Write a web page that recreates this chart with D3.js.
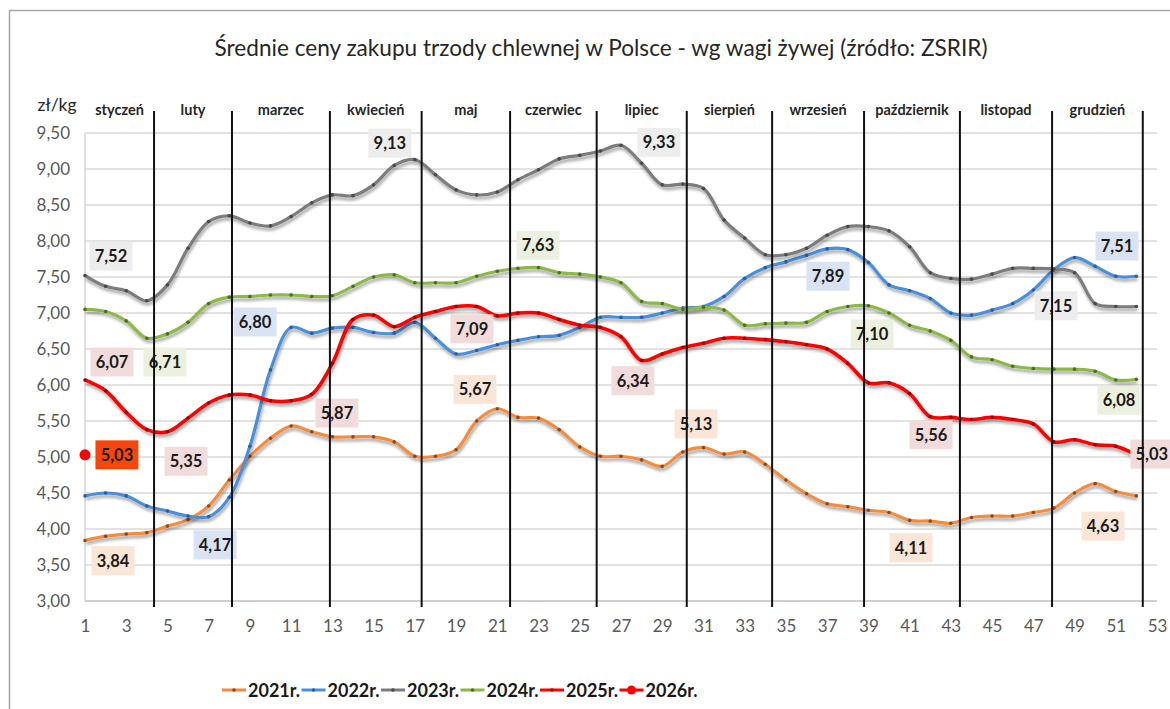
<!DOCTYPE html>
<html><head><meta charset="utf-8">
<script src="https://cdn.jsdelivr.net/npm/d3@7/dist/d3.min.js"></script>
<style>body{margin:0;background:#fff}svg{display:block}</style>
</head><body><svg id="c" width="1170" height="709"></svg>
<script>
// ---------- data ----------
const weeks = [1,2,3,4,5,6,7,8,9,10,11,12,13,14,15,16,17,18,19,20,21,22,23,24,25,26,
  27,28,29,30,31,32,33,34,35,36,37,38,39,40,41,42,43,44,45,46,47,48,49,50,51,52];
const y2021 = [3.84,3.90,3.93,3.95,4.04,4.13,4.32,4.68,5.01,5.26,5.43,5.35,5.28,5.28,5.28,5.21,5.01,5.01,5.10,5.50,
  5.67,5.55,5.54,5.38,5.14,5.01,5.01,4.96,4.87,5.07,5.13,5.04,5.07,4.90,4.68,4.49,4.35,4.31,4.26,4.23,
  4.12,4.11,4.08,4.16,4.18,4.18,4.23,4.29,4.50,4.63,4.52,4.46];
const y2022 = [4.46,4.50,4.46,4.32,4.25,4.18,4.17,4.44,5.15,6.21,6.80,6.72,6.79,6.80,6.73,6.72,6.87,6.65,6.43,6.48,
  6.56,6.62,6.67,6.69,6.80,6.94,6.94,6.94,7.00,7.07,7.09,7.23,7.48,7.63,7.71,7.80,7.89,7.88,7.70,7.39,
  7.31,7.20,7.00,6.97,7.04,7.13,7.32,7.60,7.77,7.65,7.51,7.51];
const y2023 = [7.52,7.37,7.31,7.17,7.39,7.90,8.27,8.35,8.25,8.21,8.34,8.53,8.64,8.63,8.78,9.05,9.13,8.92,8.71,8.64,
  8.68,8.85,8.99,9.14,9.19,9.25,9.33,9.08,8.78,8.79,8.73,8.29,8.04,7.81,7.81,7.90,8.08,8.20,8.20,8.14,
  7.92,7.56,7.48,7.47,7.54,7.62,7.62,7.61,7.56,7.13,7.09,7.09];
const y2024 = [7.05,7.02,6.89,6.65,6.71,6.87,7.13,7.22,7.23,7.25,7.25,7.23,7.24,7.37,7.50,7.53,7.42,7.42,7.42,7.51,
  7.58,7.62,7.63,7.56,7.54,7.50,7.42,7.16,7.13,7.05,7.08,7.04,6.83,6.85,6.86,6.87,7.02,7.09,7.10,7.00,
  6.83,6.75,6.62,6.39,6.35,6.26,6.23,6.22,6.22,6.19,6.07,6.08];
const y2025 = [6.07,5.92,5.62,5.38,5.35,5.54,5.75,5.86,5.86,5.78,5.78,5.87,6.30,6.91,6.97,6.81,6.94,7.02,7.09,7.09,
  6.96,7.00,7.00,6.91,6.83,6.80,6.67,6.34,6.43,6.52,6.58,6.65,6.65,6.63,6.60,6.56,6.50,6.30,6.03,6.03,
  5.88,5.56,5.55,5.52,5.55,5.52,5.46,5.21,5.24,5.17,5.15,5.03];
const y2026 = [5.03];

const seriesNames  = ["2021r.","2022r.","2023r.","2024r.","2025r.","2026r."];
const seriesColors = ["#f58b3c","#4a8fdc","#7c7c7c","#8cb847","#ff0000","#ff0000"];
const markerColors = ["#8a4a1f","#2d5e9c","#4a4a4a","#4e6d1f","#9a0000","#ff0000"];

const xTicks = [1,3,5,7,9,11,13,15,17,19,21,23,25,27,29,31,33,35,37,39,41,43,45,47,49,51,53];
const yTicks = [3.0,3.5,4.0,4.5,5.0,5.5,6.0,6.5,7.0,7.5,8.0,8.5,9.0,9.5];

const monthNames  = ["styczeń","luty","marzec","kwiecień","maj","czerwiec","lipiec","sierpień",
  "wrzesień","październik","listopad","grudzień"];
const monthBounds = [4.35,8.13,12.88,17.33,21.62,25.82,30.19,34.33,38.79,43.44,47.91,52.31];

// value call-outs: text, anchor week, anchor value, style (series index)
const noteText  = ["7,52","9,13","9,33","7,63","6,80","6,07","6,71","5,87","5,35","5,03","3,84","4,17",
  "7,09","5,67","6,34","5,13","7,89","7,10","7,15","7,51","6,08","5,56","5,03","4,11","4,63"];
const noteWeek  = [2.26,15.79,28.84,22.97,9.25,2.31,4.88,13.22,5.90,2.55,2.36,7.31,
  19.77,19.92,27.58,30.64,37.04,39.18,48.10,51.06,51.16,42.04,52.75,41.07,50.38];
const noteValue = [7.79,9.36,9.37,7.94,6.875,6.32,6.32,5.61,4.94,5.03,3.56,3.78,
  6.78,5.94,6.06,5.46,7.51,6.71,7.10,7.93,5.79,5.31,5.04,3.74,4.04];
const noteSeries= [2,2,2,3,1,4,3,4,4,5,0,1,4,0,4,0,1,3,2,1,3,4,4,0,0];
const noteFills = ["#fbe5d6","#dae3f3","#ededed","#ebf1de","#f2dcdb","#f5470c"];

// ---------- layout ----------
const svg = d3.select("#c");
const x = d3.scaleLinear().domain([1,53]).range([85,1157]);
const y = d3.scaleLinear().domain([3,9.5]).range([601,133]);
const FONT = "Lato, 'Liberation Sans', Arial, sans-serif";

const defs = svg.append("defs");
const f = defs.append("filter").attr("id","sh").attr("x","-5%").attr("y","-20%").attr("width","110%").attr("height","140%");
f.append("feDropShadow").attr("dx",1).attr("dy",3).attr("stdDeviation",1.8)
  .attr("flood-color","#000").attr("flood-opacity",0.35);

// frame
svg.append("rect").attr("x",9.5).attr("y",10.5).attr("width",1300).attr("height",900)
  .attr("fill","#fff").attr("stroke","#a6a6a6").attr("stroke-width",1.5);

// title
svg.append("text").attr("x",601).attr("y",56).attr("text-anchor","middle")
  .attr("font-family",FONT).attr("font-size",22.6).attr("fill","#262626")
  .text("Średnie ceny zakupu trzody chlewnej w Polsce - wg wagi żywej (źródło: ZSRIR)");

// grid
const grid = svg.append("g");
grid.selectAll("line").data(yTicks).join("line")
  .attr("x1",x(1)).attr("x2",x(53)).attr("y1",d=>y(d)).attr("y2",d=>y(d))
  .attr("stroke",d=>d===3?"#bfbfbf":"#d9d9d9").attr("stroke-width",1.3);
svg.append("line").attr("x1",x(1)).attr("x2",x(1)).attr("y1",y(9.5)).attr("y2",y(3))
  .attr("stroke","#d0d0d0").attr("stroke-width",1.3);

// y axis
const yAxis = svg.append("g").attr("transform",`translate(${x(1)-15},0)`)
  .call(d3.axisLeft(y).tickValues(yTicks).tickSize(0).tickPadding(0)
    .tickFormat(d=>d3.format(".2f")(d).replace(".",",")));
yAxis.select(".domain").remove();
yAxis.selectAll("text").attr("font-family",FONT).attr("font-size",17).attr("fill","#595959");

// x axis
const xAxis = svg.append("g").attr("transform",`translate(0,${y(3)+19})`)
  .call(d3.axisBottom(x).tickValues(xTicks).tickSize(0).tickPadding(0).tickFormat(d3.format("d")));
xAxis.select(".domain").remove();
xAxis.selectAll("text").attr("font-family",FONT).attr("font-size",17).attr("fill","#595959");

// unit
svg.append("text").attr("x",57).attr("y",111).attr("text-anchor","middle")
  .attr("font-family",FONT).attr("font-size",17.5).attr("fill","#262626").text("zł/kg");

// series
const allSeries = [y2021,y2022,y2023,y2024,y2025];
const line = d3.line().x((d,i)=>x(weeks[i])).y(d=>y(d)).curve(d3.curveCatmullRom.alpha(0.5));
const sg = svg.append("g");
allSeries.forEach((vals,si)=>{
  const g = sg.append("g");
  g.append("path").datum(vals).attr("d",line).attr("fill","none")
    .attr("stroke",seriesColors[si]).attr("stroke-width",si===4?3.6:3.2)
    .attr("stroke-linejoin","round").attr("filter","url(#sh)");
  g.selectAll("circle").data(vals).join("circle")
    .attr("cx",(d,i)=>x(weeks[i])).attr("cy",d=>y(d)).attr("r",1.8)
    .attr("fill",markerColors[si]);
});
// 2026 point
sg.selectAll(".p26").data(y2026).join("circle").attr("class","p26")
  .attr("cx",(d,i)=>x(weeks[i])).attr("cy",d=>y(d)).attr("r",5.5).attr("fill",seriesColors[5]);

// call-outs
const ng = svg.append("g");
noteText.forEach((t,i)=>{
  const cx = x(noteWeek[i]), cy = y(noteValue[i]);
  ng.append("rect").attr("x",cx-21.5).attr("y",cy-14.5).attr("width",43).attr("height",29)
    .attr("fill",noteFills[noteSeries[i]]);
  ng.append("text").attr("x",cx).attr("y",cy+6).attr("text-anchor","middle")
    .attr("font-family",FONT).attr("font-weight","bold").attr("font-size",16.5)
    .attr("fill","#1a1a1a").text(t);
});

// month separators & names
const mg = svg.append("g");
mg.selectAll("line").data(monthBounds).join("line")
  .attr("x1",d=>x(d)).attr("x2",d=>x(d)).attr("y1",111).attr("y2",607)
  .attr("stroke","#111").attr("stroke-width",2);
const monthStarts = [1].concat(monthBounds.slice(0,11));
mg.selectAll("text").data(monthNames).join("text")
  .attr("x",(d,i)=>(x(monthStarts[i])+x(monthBounds[i]))/2).attr("y",115)
  .attr("text-anchor","middle").attr("font-family",FONT).attr("font-weight","bold")
  .attr("font-size",14.5).attr("fill","#262626").text(d=>d);

// legend
const lg = svg.append("g").attr("transform","translate(222,690)");
seriesNames.forEach((n,i)=>{
  const g = lg.append("g").attr("transform",`translate(${i*79.5},0)`);
  g.append("line").attr("x1",0).attr("x2",24).attr("y1",0).attr("y2",0)
    .attr("stroke",seriesColors[i]).attr("stroke-width",3);
  if(i===5) g.append("circle").attr("cx",12).attr("cy",0).attr("r",4.5).attr("fill",seriesColors[i]);
  else g.append("circle").attr("cx",12).attr("cy",0).attr("r",1.8).attr("fill",markerColors[i]);
  g.append("text").attr("x",26).attr("y",6.5).attr("font-family",FONT).attr("font-weight","bold")
    .attr("font-size",18).attr("fill","#1a1a1a").text(n);
});
</script></body></html>
